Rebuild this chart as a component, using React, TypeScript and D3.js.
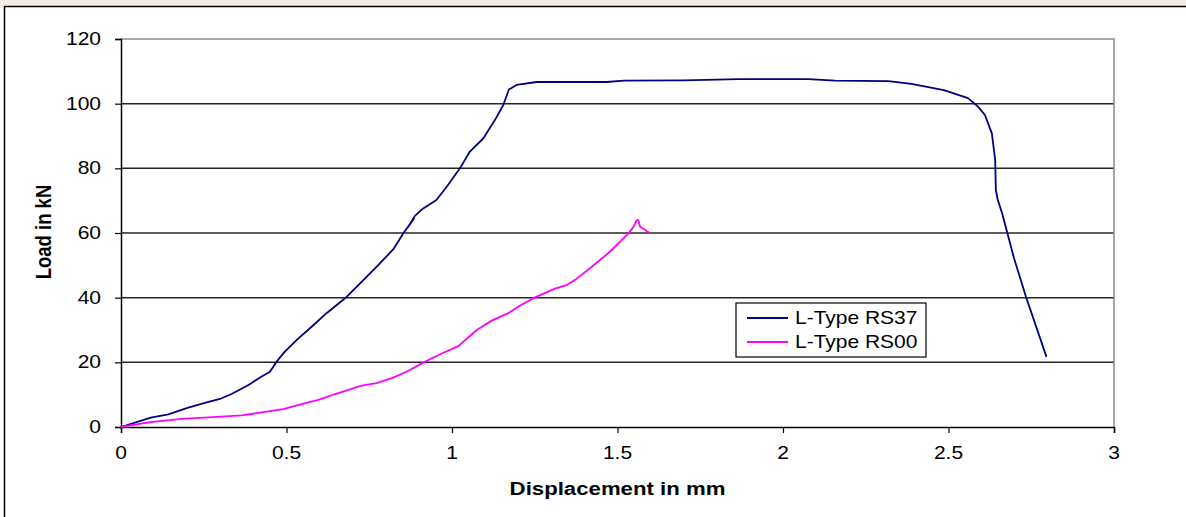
import React, { useEffect, useRef } from "react";
import * as d3 from "d3";

// displacement (mm) / load (kN)
const rs37Disp = [0, 0.09, 0.143, 0.203, 0.259, 0.302, 0.334, 0.385, 0.425, 0.45, 0.47, 0.495, 0.536, 0.576, 0.621, 0.677, 0.727, 0.777, 0.823, 0.853, 0.885, 0.867, 0.888, 0.913, 0.953, 0.984, 1.024, 1.054, 1.095, 1.13, 1.155, 1.172, 1.195, 1.256, 1.467, 1.52, 1.7, 1.867, 2.076, 2.157, 2.318, 2.388, 2.486, 2.559, 2.59, 2.61, 2.631, 2.641, 2.643, 2.649, 2.662, 2.698, 2.734, 2.796];
const rs37Load = [0, 2.9, 3.9, 6.0, 7.6, 8.8, 10.2, 13.0, 15.6, 17.1, 20.2, 23.3, 27.4, 31.0, 35.2, 39.8, 44.9, 50.1, 55.0, 59.9, 64.5, 61.8, 65.3, 67.6, 70.2, 74.3, 80.0, 85.2, 89.3, 95.0, 99.6, 104.4, 105.8, 106.7, 106.7, 107.1, 107.2, 107.6, 107.6, 107.1, 107.0, 106.1, 104.2, 101.7, 99.0, 96.5, 90.8, 82.6, 73.3, 70.2, 66.1, 52.2, 40.3, 21.7];

const rs00Disp = [0, 0.083, 0.183, 0.264, 0.365, 0.425, 0.49, 0.546, 0.596, 0.647, 0.727, 0.772, 0.818, 0.863, 0.913, 0.964, 1.019, 1.075, 1.12, 1.17, 1.205, 1.251, 1.311, 1.346, 1.372, 1.417, 1.477, 1.508, 1.533, 1.548, 1.558, 1.563, 1.568, 1.596];
const rs00Load = [0, 1.4, 2.5, 3.0, 3.6, 4.5, 5.5, 7.1, 8.4, 10.2, 12.8, 13.6, 15.1, 17.1, 19.9, 22.5, 25.0, 30.0, 32.9, 35.2, 37.5, 40.1, 42.8, 43.9, 45.5, 49.1, 54.2, 57.3, 59.9, 61.8, 64.0, 64.0, 62.0, 60.1];

const seriesNames = ["L-Type RS37", "L-Type RS00"];
const seriesColors = ["#000080", "#FF00FF"];
const xTicks = [0, 0.5, 1, 1.5, 2, 2.5, 3];
const yTicks = [0, 20, 40, 60, 80, 100, 120];

export default function App() {
  const svgRef = useRef<SVGSVGElement>(null);

  useEffect(() => {
    const width = 1186;
    const height = 517;
    const left = 121, right = 1114, top = 39, bottom = 427;
    const stretch = 1.2; // the source picture is widened, text included
    const font = "'Liberation Sans', Arial, sans-serif";

    const svg = d3.select(svgRef.current)
      .attr("width", width)
      .attr("height", height);
    svg.selectAll("*").remove();

    svg.append("rect").attr("width", width).attr("height", height).attr("fill", "#fff");
    // faint watermark strip above the frame
    svg.append("rect").attr("x", 0).attr("y", 0).attr("width", width).attr("height", 6)
      .attr("fill", "#f4ece0");
    // outer chart frame (runs past the right and bottom edges)
    svg.append("path")
      .attr("d", `M4.5,${height + 5} V6.5 H${width + 5}`)
      .attr("fill", "none").attr("stroke", "#000").attr("stroke-width", 1.5);

    const x = d3.scaleLinear().domain([0, 3]).range([left, right]);
    const y = d3.scaleLinear().domain([0, 120]).range([bottom, top]);

    // gridlines
    svg.append("g")
      .selectAll("line")
      .data(yTicks.filter(t => t > 0 && t < 120))
      .join("line")
      .attr("x1", left).attr("x2", right)
      .attr("y1", d => y(d)).attr("y2", d => y(d))
      .attr("stroke", "#262626").attr("stroke-width", 1.5);

    // plot area border top/right in grey
    svg.append("path")
      .attr("d", `M${left},${y(120)} H${right} V${bottom}`)
      .attr("fill", "none").attr("stroke", "#8c8c8c").attr("stroke-width", 1.5);

    // axes
    const xAxis = svg.append("g").attr("transform", `translate(0,${bottom})`)
      .call(d3.axisBottom(x).tickValues(xTicks).tickSize(6).tickFormat(() => ""));
    const yAxis = svg.append("g").attr("transform", `translate(${left},0)`)
      .call(d3.axisLeft(y).tickValues(yTicks).tickSize(6).tickFormat(() => ""));
    [xAxis, yAxis].forEach(g => {
      g.select(".domain").attr("stroke", "#000").attr("stroke-width", 1.5);
      g.selectAll(".tick line").attr("stroke", "#000").attr("stroke-width", 1.2);
    });

    const stretchedText = (tx: number, ty: number, txt: string, opts: { size: number; anchor: string; bold?: boolean; rotate?: number }) => {
      svg.append("text")
        .attr("transform", `translate(${tx},${ty}) scale(${stretch},1)${opts.rotate ? ` rotate(${opts.rotate})` : ""}`)
        .attr("text-anchor", opts.anchor)
        .attr("font-family", font)
        .attr("font-size", opts.size)
        .attr("font-weight", opts.bold ? "bold" : "normal")
        .attr("fill", "#000")
        .text(txt);
    };

    yTicks.forEach(t => stretchedText(101, y(t) + 6, String(t), { size: 17.5, anchor: "end" }));
    xTicks.forEach(t => stretchedText(x(t), 459, String(t), { size: 17.5, anchor: "middle" }));

    stretchedText((left + right) / 2, 494.5, "Displacement in mm", { size: 18.5, anchor: "middle", bold: true });
    stretchedText(51, 232, "Load in kN", { size: 18.5, anchor: "middle", bold: true, rotate: -90 });

    // series lines
    const line = d3.line<[number, number]>()
      .x(d => x(d[0]))
      .y(d => y(d[1]));
    const series: [number, number][][] = [
      rs37Disp.map((d, i) => [d, rs37Load[i]]),
      rs00Disp.map((d, i) => [d, rs00Load[i]]),
    ];
    svg.append("g")
      .selectAll("path")
      .data(series)
      .join("path")
      .attr("d", d => line(d))
      .attr("fill", "none")
      .attr("stroke", (d, i) => seriesColors[i])
      .attr("stroke-width", 1.8)
      .attr("stroke-linejoin", "round");

    // legend
    const legend = svg.append("g").attr("transform", "translate(736,303)");
    legend.append("rect")
      .attr("width", 190).attr("height", 54)
      .attr("fill", "#fff").attr("stroke", "#000").attr("stroke-width", 1.2);
    seriesNames.forEach((name, i) => {
      const ly = 15 + i * 24;
      legend.append("line")
        .attr("x1", 11).attr("x2", 52)
        .attr("y1", ly).attr("y2", ly)
        .attr("stroke", seriesColors[i]).attr("stroke-width", 2);
      legend.append("text")
        .attr("transform", `translate(59,${ly + 6}) scale(${stretch},1)`)
        .attr("font-family", font)
        .attr("font-size", 17.5)
        .attr("fill", "#000")
        .text(name);
    });
  }, []);

  return (
    <div style={{ position: "absolute", left: 0, top: 0 }}>
      <svg ref={svgRef} style={{ display: "block" }}></svg>
    </div>
  );
}
